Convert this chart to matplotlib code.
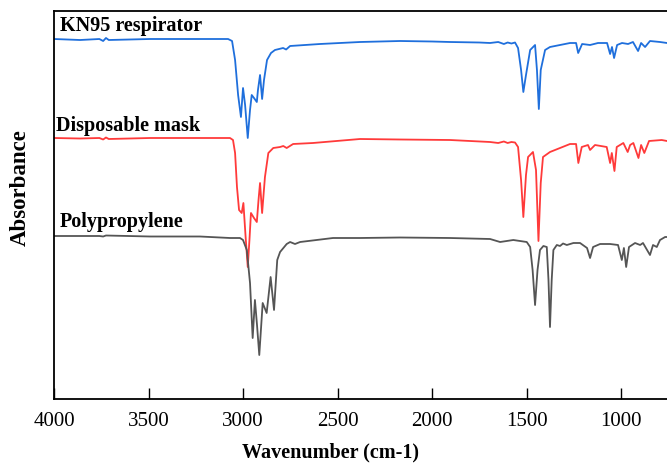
import numpy as np
import matplotlib.pyplot as plt

# FTIR spectra (wavenumber in cm-1, absorbance in arbitrary stacked units)
kn95_wn = [4000, 3862, 3760, 3740, 3725, 3710, 3492, 3228, 3079, 3058, 3042, 3026, 3011, 3000,
           2989, 2975, 2963, 2954, 2942, 2927, 2921, 2910, 2899, 2889, 2873, 2852, 2831, 2788,
           2772, 2751, 2593, 2381, 2169, 2000, 1905, 1750, 1693, 1650, 1620, 1600, 1580, 1561,
           1545, 1529, 1517, 1503, 1481, 1455, 1445, 1435, 1425, 1402, 1376, 1323, 1270, 1238,
           1227, 1206, 1164, 1122, 1074, 1058, 1048, 1037, 1021, 995, 963, 937, 910, 894, 873,
           847, 794, 757]
kn95_abs = [3.66, 3.65, 3.66, 3.64, 3.67, 3.65, 3.66, 3.66, 3.66, 3.64, 3.45, 3.10, 2.88, 3.17,
            3.00, 2.67, 2.95, 3.10, 3.07, 3.03, 3.15, 3.30, 3.06, 3.25, 3.45, 3.52, 3.55, 3.57,
            3.555, 3.59, 3.61, 3.63, 3.64, 3.635, 3.63, 3.625, 3.62, 3.63, 3.61, 3.625, 3.615, 3.625,
            3.57, 3.35, 3.13, 3.30, 3.55, 3.60, 3.35, 2.96, 3.35, 3.55, 3.58, 3.60, 3.62, 3.62,
            3.52, 3.61, 3.60, 3.62, 3.62, 3.51, 3.58, 3.47, 3.60, 3.62, 3.61, 3.63, 3.54, 3.62, 3.58,
            3.64, 3.63, 3.62]

mask_wn = [4000, 3862, 3760, 3740, 3725, 3710, 3492, 3228, 3069, 3053, 3042, 3032, 3021, 3007,
           2998, 2987, 2975, 2966, 2958, 2942, 2927, 2918, 2910, 2899, 2884, 2866, 2840, 2804,
           2787, 2769, 2735, 2630, 2381, 2169, 1905, 1693, 1650, 1620, 1600, 1580, 1561, 1545,
           1529, 1517, 1503, 1492, 1466, 1450, 1437, 1425, 1413, 1376, 1323, 1270, 1238, 1226,
           1208, 1175, 1164, 1138, 1076, 1058, 1049, 1035, 1023, 988, 965, 952, 935, 908, 894,
           877, 852, 785, 757]
mask_abs = [2.67, 2.665, 2.67, 2.655, 2.675, 2.66, 2.67, 2.67, 2.67, 2.65, 2.52, 2.18, 1.95, 1.92,
            2.02, 1.70, 1.38, 1.65, 1.92, 1.87, 1.83, 2.05, 2.22, 1.92, 2.28, 2.52, 2.57, 2.58,
            2.59, 2.57, 2.61, 2.62, 2.66, 2.655, 2.65, 2.63, 2.62, 2.635, 2.62, 2.63, 2.625, 2.58,
            2.25, 1.88, 2.30, 2.48, 2.53, 2.35, 1.64, 2.22, 2.48, 2.53, 2.57, 2.61, 2.61, 2.42,
            2.58, 2.60, 2.55, 2.60, 2.58, 2.42, 2.52, 2.34, 2.58, 2.62, 2.53, 2.60, 2.62, 2.47, 2.60,
            2.52, 2.64, 2.65, 2.64]

pp_wn = [4000, 3862, 3760, 3740, 3725, 3492, 3228, 3069, 3016, 3000, 2980, 2963, 2949, 2937,
         2926, 2914, 2896, 2875, 2854, 2836, 2819, 2804, 2769, 2751, 2725, 2698, 2524, 2381,
         2169, 1905, 1693, 1640, 1570, 1499, 1481, 1468, 1455, 1442, 1429, 1411, 1393, 1384,
         1376, 1367, 1358, 1340, 1323, 1307, 1287, 1252, 1217, 1180, 1164, 1148, 1111, 1058,
         1016, 996, 985, 973, 958, 926, 899, 884, 847, 831, 811, 794, 767, 757]
pp_abs = [1.69, 1.69, 1.69, 1.685, 1.695, 1.685, 1.685, 1.67, 1.67, 1.65, 1.55, 1.22, 0.67, 1.05,
          0.80, 0.50, 1.02, 0.92, 1.28, 0.95, 1.45, 1.53, 1.61, 1.63, 1.61, 1.63, 1.67, 1.67,
          1.675, 1.67, 1.66, 1.63, 1.65, 1.63, 1.58, 1.35, 1.00, 1.35, 1.55, 1.59, 1.58, 1.25,
          0.78, 1.25, 1.55, 1.60, 1.59, 1.615, 1.60, 1.62, 1.62, 1.57, 1.47, 1.58, 1.61, 1.61,
          1.60, 1.45, 1.57, 1.38, 1.58, 1.62, 1.60, 1.62, 1.50, 1.60, 1.58, 1.65, 1.68, 1.68]

names = ['KN95 respirator', 'Disposable mask', 'Polypropylene']
colors = ['#1f6fdc', '#ff3a3a', '#555555']

plt.rcParams['font.family'] = ['Liberation Serif', 'DejaVu Serif']

fig = plt.figure(figsize=(6.67, 4.65), dpi=100)
ax = fig.add_axes([54 / 667, 1 - 399 / 465, 1 - 54 / 667, (399 - 11) / 465])

for wn, ab, c in zip([kn95_wn, mask_wn, pp_wn], [kn95_abs, mask_abs, pp_abs], colors):
    ax.plot(wn, ab, color=c, lw=1.3)

# curve labels
label_pos = [(3968, 3.74), (3990, 2.74), (3968, 1.78)]
for (x, y), name in zip(label_pos, names):
    ax.text(x, y, name, fontsize=14.5, fontweight='bold', ha='left', va='baseline')

ax.set_xlim(4000, 757)
ax.set_ylim(0.06, 3.94)
ax.set_xticks(np.arange(4000, 999, -500))
ax.set_yticks([])
ax.tick_params(axis='x', direction='in', length=8, width=1.0, labelsize=15, pad=9)
for s in ['left', 'top', 'bottom']:
    ax.spines[s].set_linewidth(1.3)
ax.spines['right'].set_visible(False)

ax.set_xlabel('Wavenumber (cm-1)', fontsize=14.5, fontweight='bold')
ax.xaxis.set_label_coords((330 - 54) / 613, -(452 - 399) / 388)
ax.xaxis.label.set_va('center')
ax.set_ylabel('Absorbance', fontsize=16.5, fontweight='bold')
ax.yaxis.set_label_coords(-(54 - 20) / 613, (399 - 188) / 388)
ax.yaxis.label.set_va('center')

fig.savefig('out.png', dpi=100)
